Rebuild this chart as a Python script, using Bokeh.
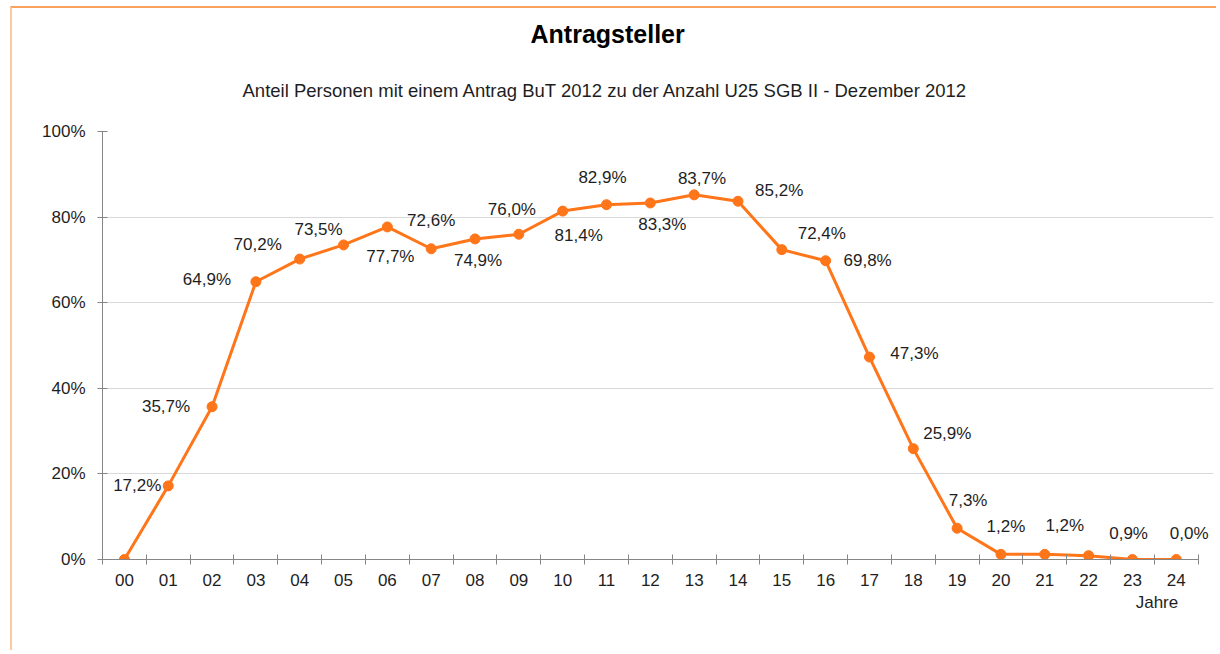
from bokeh.plotting import figure
from bokeh.models import Range1d, FixedTicker, LinearAxis, Title, ColumnDataSource
from bokeh.core.properties import value
from bokeh.embed import file_html
from bokeh.resources import INLINE

# ---- data ----
ages = ["00", "01", "02", "03", "04", "05", "06", "07", "08", "09", "10", "11", "12",
        "13", "14", "15", "16", "17", "18", "19", "20", "21", "22", "23", "24"]
share = [0.0, 17.2, 35.7, 64.9, 70.2, 73.5, 77.7, 72.6, 74.9, 76.0, 81.4, 82.9, 83.3,
         85.2, 83.7, 72.4, 69.8, 47.3, 25.9, 7.3, 1.2, 1.2, 0.9, 0.0, 0.0]
labelled = [False] + [True] * 22 + [False, True]
y_ticks = [0, 20, 40, 60, 80, 100]
y_tick_labels = ["0%", "20%", "40%", "60%", "80%", "100%"]

title_text = "Antragsteller"
subtitle_text = "Anteil Personen mit einem Antrag BuT 2012 zu der Anzahl U25 SGB II - Dezember 2012"
x_axis_text = "Jahre"

# ---- label placement (screen px offsets relative to each point) ----
label_dx = [0, -31, -46, -49, -42, -25, 3, 0, 3, -7, 16, -4, 12,
            85, -36, 40, 42, 45, 34, 11, 5, 20, 40, 0, 13]
label_dy = [0, 0, 0, -2, -15, -15, 30, -28, 22, -25, 24, -27, 22,
            -4, -23, -16, 0, -4, -15, -28, -28, -29, -22, 0, -26]

FONT = "Liberation Sans"
ORANGE = "#ff7519"
TEXT = "#1e1e1e"
AXIS = "#868686"

n = len(ages)
xs = [i + 0.5 for i in range(n)]
texts = [(f"{v:.1f}".replace(".", ",") + "%") if show else "" for v, show in zip(share, labelled)]
src = ColumnDataSource(dict(x=xs, y=share, t=texts, dx=label_dx, dy=label_dy))

p = figure(width=1206, height=644, output_backend="svg", toolbar_location=None,
           x_range=Range1d(0, n + 0.35), y_range=Range1d(0, 100),
           min_border_left=90, min_border_right=5, min_border_top=123, min_border_bottom=93,
           title=None)
p.styles = {"margin-left": "10px", "margin-top": "6px",
            "border-top": "2px solid #f9a25e", "border-left": "2px solid #fdc9a1"}
p.background_fill_color = "white"
p.border_fill_color = "white"
p.outline_line_color = None

# titles (first added = closest to the frame)
p.add_layout(Title(text=subtitle_text, align="left", offset=140, standoff=60,
                   vertical_align="middle", text_font=FONT, text_font_size="18.5px",
                   text_font_style="normal", text_color=TEXT), "above")
p.add_layout(Title(text=title_text, align="left", offset=428, standoff=0,
                   vertical_align="middle", text_font=FONT, text_font_size="25px",
                   text_font_style="bold", text_color="#000000"), "above")

# grid
p.xgrid.grid_line_color = None
p.ygrid.grid_line_color = "#d9d9d9"
p.ygrid.grid_line_width = 1
p.ygrid.ticker = FixedTicker(ticks=y_ticks)
p.ygrid.bounds = (0, n)

# y axis
ya = p.yaxis[0]
ya.ticker = FixedTicker(ticks=y_ticks)
ya.major_label_overrides = {t: l for t, l in zip(y_ticks, y_tick_labels)}
ya.axis_line_color = AXIS
ya.major_tick_line_color = AXIS
ya.major_tick_in = 5
ya.major_tick_out = 5
ya.minor_tick_line_color = None
ya.major_label_standoff = 12
ya.major_label_text_font = FONT
ya.major_label_text_font_size = "17px"
ya.major_label_text_color = TEXT

# x axis: labels at category centres, ticks between categories
xa = p.xaxis[0]
xa.bounds = (0, n)
xa.ticker = FixedTicker(ticks=xs, minor_ticks=list(range(n + 1)))
xa.major_label_overrides = {x: a for x, a in zip(xs, ages)}
xa.axis_line_color = AXIS
xa.major_tick_line_color = None
xa.major_tick_in = 0
xa.major_tick_out = 0
xa.minor_tick_line_color = AXIS
xa.minor_tick_in = 5
xa.minor_tick_out = 5
xa.major_label_standoff = 9
xa.major_label_text_font = FONT
xa.major_label_text_font_size = "17px"
xa.major_label_text_color = TEXT

# axis title "Jahre" under the last categories
jahre_pos = n - 0.94
xa2 = LinearAxis(ticker=FixedTicker(ticks=[jahre_pos], minor_ticks=[]),
                 major_label_overrides={jahre_pos: x_axis_text},
                 axis_line_color=None, major_tick_line_color=None, minor_tick_line_color=None,
                 major_tick_in=0, major_tick_out=0, major_label_standoff=4,
                 major_label_text_font=FONT, major_label_text_font_size="17px",
                 major_label_text_color=TEXT)
p.add_layout(xa2, "below")

# series
p.line("x", "y", source=src, line_color=ORANGE, line_width=3)
p.scatter("x", "y", source=src, size=10, fill_color=ORANGE, line_color=ORANGE)
p.text("x", "y", text="t", source=src, x_offset="dx", y_offset="dy",
       text_align="center", text_baseline="middle",
       text_font=value(FONT), text_font_size="17px", text_color=TEXT)

open("out.html", "w").write(file_html(p, INLINE))
